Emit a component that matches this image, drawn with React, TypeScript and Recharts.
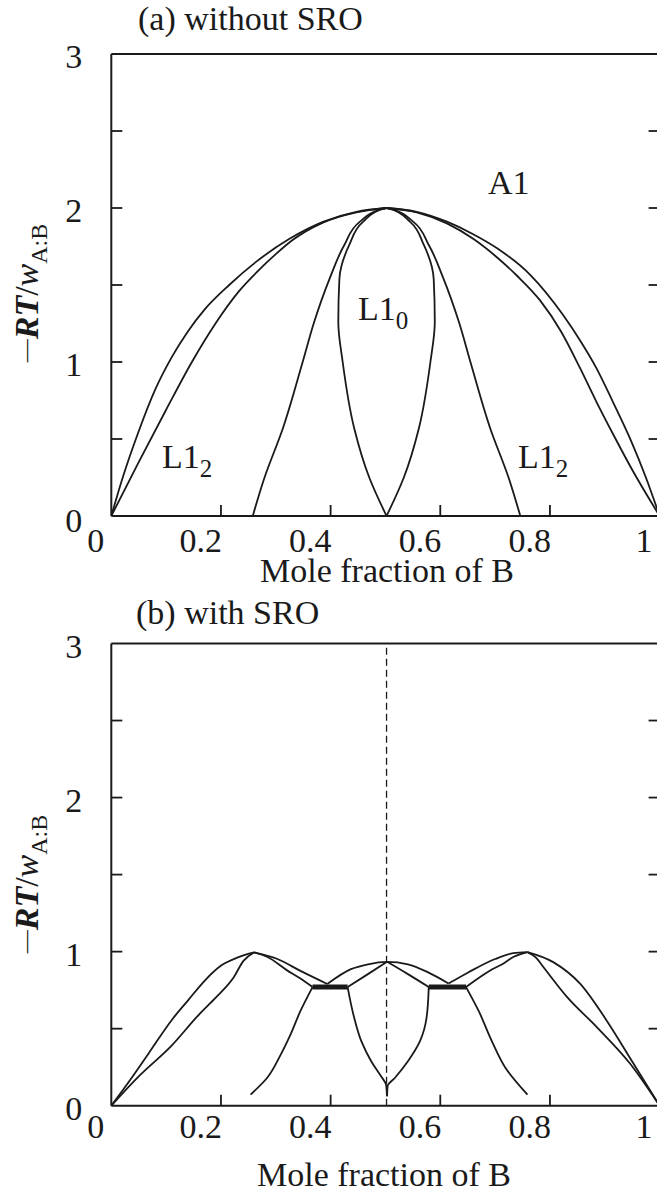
import { LineChart, Line, XAxis, YAxis } from "recharts";

type Pt = [number, number];

// x = mole fraction of B, y = -RT/w(A:B)

// (a) without SRO
const aOuterLeft: Pt[] = [
  [0, 0], [0.02, 0.24], [0.05, 0.55], [0.08, 0.82], [0.11, 1.03], [0.14, 1.2],
  [0.17, 1.34], [0.215, 1.5], [0.264, 1.65], [0.325, 1.8], [0.386, 1.91], [0.447, 1.975], [0.502, 2.0],
];
const aInnerLeft: Pt[] = [
  [0, 0], [0.05, 0.35], [0.1, 0.69], [0.147, 1.0], [0.19, 1.25], [0.233, 1.46],
  [0.27, 1.6], [0.3, 1.7], [0.33, 1.79], [0.386, 1.905], [0.447, 1.972], [0.502, 2.0],
];
const aL10Left: Pt[] = [
  [0.258, 0], [0.279, 0.245], [0.313, 0.57], [0.349, 1.0], [0.37, 1.26], [0.398, 1.54],
  [0.425, 1.76], [0.453, 1.91], [0.49, 1.99], [0.502, 2.0],
];
const aLensLeft: Pt[] = [
  [0.502, 0], [0.471, 0.245], [0.443, 0.57], [0.422, 1.0], [0.414, 1.26], [0.416, 1.54],
  [0.434, 1.76], [0.459, 1.91], [0.496, 1.997], [0.502, 2.0],
];
const aLensRight: Pt[] = [
  [0.502, 0], [0.533, 0.245], [0.561, 0.57], [0.582, 1.0], [0.59, 1.26], [0.588, 1.54],
  [0.57, 1.76], [0.545, 1.91], [0.508, 1.997], [0.502, 2.0],
];
const aL10Right: Pt[] = [
  [0.746, 0], [0.725, 0.245], [0.691, 0.57], [0.655, 1.0], [0.634, 1.26], [0.606, 1.54],
  [0.579, 1.76], [0.551, 1.91], [0.514, 1.99], [0.502, 2.0],
];
const aInnerRight: Pt[] = [
  [0.502, 2.0], [0.557, 1.972], [0.612, 1.9], [0.66, 1.8], [0.7, 1.69], [0.74, 1.56],
  [0.782, 1.4], [0.82, 1.2], [0.855, 0.96], [0.885, 0.74], [0.916, 0.526], [0.95, 0.3], [1.0, 0],
];
const aOuterRight: Pt[] = [
  [0.502, 2.0], [0.557, 1.975], [0.612, 1.911], [0.66, 1.83], [0.703, 1.74], [0.764, 1.566],
  [0.824, 1.305], [0.855, 1.14], [0.885, 0.959], [0.915, 0.74], [0.946, 0.504], [0.975, 0.25], [1.0, 0],
];

// (b) with SRO
const bOuterLeft: Pt[] = [
  [0, 0], [0.035, 0.17], [0.068, 0.339], [0.11, 0.555], [0.14, 0.684], [0.171, 0.814],
  [0.201, 0.911], [0.232, 0.964], [0.26, 0.995],
];
const bOuterLeftDown: Pt[] = [[0.26, 0.995], [0.303, 0.952], [0.345, 0.875], [0.394, 0.79]];
const bDomeOuter: Pt[] = [
  [0.394, 0.79], [0.437, 0.886], [0.468, 0.918], [0.503, 0.934], [0.541, 0.918], [0.578, 0.865], [0.615, 0.793],
];
const bOuterRightUp: Pt[] = [[0.615, 0.793], [0.651, 0.865], [0.7, 0.952], [0.733, 0.99], [0.759, 0.997]];
const bOuterRightDown: Pt[] = [
  [0.759, 0.997], [0.806, 0.932], [0.855, 0.792], [0.903, 0.555], [0.952, 0.275], [1.0, 0],
];
const bInnerLeft: Pt[] = [
  [0, 0], [0.05, 0.19], [0.11, 0.39], [0.162, 0.6], [0.19, 0.7], [0.223, 0.832], [0.241, 0.94], [0.26, 0.995],
];
const bInnerLeftDown: Pt[] = [[0.26, 0.995], [0.285, 0.965], [0.32, 0.88], [0.345, 0.825], [0.367, 0.77]];
const bDomeInnerLeft: Pt[] = [[0.431, 0.77], [0.468, 0.854], [0.503, 0.934]];
const bDomeInnerRight: Pt[] = [[0.503, 0.934], [0.541, 0.854], [0.579, 0.77]];
const bInnerRightUp: Pt[] = [[0.647, 0.77], [0.676, 0.843], [0.691, 0.878], [0.713, 0.918], [0.733, 0.965], [0.759, 0.997]];
const bInnerRightDown: Pt[] = [
  [0.759, 0.997], [0.775, 0.96], [0.788, 0.9], [0.831, 0.706], [0.885, 0.512], [0.946, 0.274], [1.0, 0],
];
const bL12Left: Pt[] = [[0.254, 0.072], [0.284, 0.18], [0.309, 0.332], [0.327, 0.463], [0.345, 0.615], [0.367, 0.77]];
const bL12Right: Pt[] = [[0.759, 0.072], [0.719, 0.245], [0.694, 0.419], [0.67, 0.615], [0.647, 0.77]];
const bCuspLeft: Pt[] = [
  [0.503, 0.061], [0.501, 0.137], [0.492, 0.191], [0.474, 0.289], [0.456, 0.419], [0.443, 0.571], [0.431, 0.77],
];
const bCuspRight: Pt[] = [
  [0.503, 0.061], [0.504, 0.128], [0.517, 0.18], [0.541, 0.289], [0.563, 0.419], [0.575, 0.571], [0.579, 0.77],
];
const bBarLeft: Pt[] = [[0.367, 0.77], [0.431, 0.77]];
const bBarRight: Pt[] = [[0.579, 0.77], [0.647, 0.77]];
const bMidline: Pt[] = [[0.502, 0], [0.502, 3]];

const xTicks = [0, 0.2, 0.4, 0.6, 0.8, 1];
const yTicks = [0, 0.5, 1, 1.5, 2, 2.5, 3];

const INK = "#1a1a1a";
const FONT = "'Liberation Serif', 'Times New Roman', serif";
const TICK = 11;
const W = 700;
const LEFT = 111.3;
const RIGHT = 659.6;

const rows = (p: Pt[]) => p.map(([x, y]) => ({ x, y }));

const bottomTick = (drop: number) => (props: any) => {
  const { x, y, payload } = props;
  const v = payload.value as number;
  const edge = v === 0 || v === 1;
  return (
    <g>
      {!edge && <line x1={x} x2={x} y1={y} y2={y - TICK} stroke={INK} strokeWidth={1.8} />}
      <text x={x + (edge ? -7 : 1)} y={y + drop} textAnchor="end" fontSize={34} fontFamily={FONT} fill={INK}>
        {String(v)}
      </text>
    </g>
  );
};

function topTick(props: any) {
  const { x, y, payload } = props;
  const v = payload.value as number;
  if (v === 0 || v === 1) return <g />;
  return <line x1={x} x2={x} y1={y} y2={y + TICK} stroke={INK} strokeWidth={1.8} />;
}

const leftTick = (zeroDrop: number) => (props: any) => {
  const { x, y, payload } = props;
  const v = payload.value as number;
  const edge = v === 0 || v === 3;
  return (
    <g>
      {!edge && <line x1={x} x2={x + TICK} y1={y} y2={y} stroke={INK} strokeWidth={1.8} />}
      {Number.isInteger(v) && (
        <text x={x - 29} y={y + (v === 0 ? zeroDrop : 14)} textAnchor="end" fontSize={34} fontFamily={FONT} fill={INK}>
          {String(v)}
        </text>
      )}
    </g>
  );
};

function rightTick(props: any) {
  const { x, y, payload } = props;
  const v = payload.value as number;
  if (v === 0 || v === 3) return <g />;
  return <line x1={x} x2={x - TICK} y1={y} y2={y} stroke={INK} strokeWidth={1.8} />;
}

// every axis gets a 1px box so that it is drawn; the margins below take that pixel back
function axes(labelDrop: number, zeroDrop: number) {
  const line = { stroke: INK, strokeWidth: 2 };
  return [
    <XAxis key="xb" dataKey="x" type="number" domain={[0, 1]} allowDataOverflow ticks={xTicks} interval={0}
      height={1} tickSize={0} tickMargin={0} axisLine={line} tickLine={false} tick={bottomTick(labelDrop)} />,
    <XAxis key="xt" xAxisId="top" orientation="top" type="number" domain={[0, 1]} allowDataOverflow ticks={xTicks}
      interval={0} height={1} tickSize={0} tickMargin={0} axisLine={line} tickLine={false} tick={topTick} />,
    <YAxis key="yl" type="number" domain={[0, 3]} allowDataOverflow ticks={yTicks} interval={0} width={1}
      tickSize={0} tickMargin={0} axisLine={line} tickLine={false} tick={leftTick(zeroDrop)} />,
    <YAxis key="yr" yAxisId="right" orientation="right" type="number" domain={[0, 3]} allowDataOverflow
      ticks={yTicks} interval={0} width={1} tickSize={0} tickMargin={0} axisLine={line} tickLine={false} tick={rightTick} />,
  ];
}

type Series = { data: Pt[]; curve: "monotone" | "monotoneY" | "linear"; w?: number; dash?: string };

function curves(list: Series[], prefix: string) {
  return list.map((s, i) => (
    <Line
      key={prefix + i}
      data={rows(s.data)}
      dataKey="y"
      type={s.curve}
      stroke={INK}
      strokeWidth={s.w ?? 1.8}
      strokeDasharray={s.dash}
      dot={false}
      activeDot={false}
      isAnimationActive={false}
    />
  ));
}

const seriesA: Series[] = [
  { data: aOuterLeft, curve: "monotone" },
  { data: aInnerLeft, curve: "monotone" },
  { data: aL10Left, curve: "monotoneY" },
  { data: aLensLeft, curve: "monotoneY" },
  { data: aLensRight, curve: "monotoneY" },
  { data: aL10Right, curve: "monotoneY" },
  { data: aInnerRight, curve: "monotone" },
  { data: aOuterRight, curve: "monotone" },
];

const seriesB: Series[] = [
  { data: bMidline, curve: "linear", w: 1.3, dash: "7 4" },
  { data: bOuterLeft, curve: "monotone" },
  { data: bOuterLeftDown, curve: "monotone" },
  { data: bDomeOuter, curve: "monotone" },
  { data: bOuterRightUp, curve: "monotone" },
  { data: bOuterRightDown, curve: "monotone" },
  { data: bInnerLeft, curve: "monotone" },
  { data: bInnerLeftDown, curve: "monotone" },
  { data: bDomeInnerLeft, curve: "monotone" },
  { data: bDomeInnerRight, curve: "monotone" },
  { data: bInnerRightUp, curve: "monotone" },
  { data: bInnerRightDown, curve: "monotone" },
  { data: bL12Left, curve: "monotoneY" },
  { data: bL12Right, curve: "monotoneY" },
  { data: bCuspLeft, curve: "monotoneY" },
  { data: bCuspRight, curve: "monotoneY" },
  { data: bBarLeft, curve: "linear", w: 5 },
  { data: bBarRight, curve: "linear", w: 5 },
];

// the long minus is an em dash lifted a little (rotated, so "up" is to the left)
function YLabel({ cy }: { cy: number }) {
  return (
    <text transform={`translate(38,${cy}) rotate(-90)`} textAnchor="middle" fontSize={34} fontFamily={FONT} fill={INK}>
      <tspan fontSize={23} dy={-5}>—</tspan>
      <tspan fontWeight="bold" fontStyle="italic" dy={5}>RT</tspan>
      <tspan>/</tspan>
      <tspan fontStyle="italic">w</tspan>
      <tspan fontSize={24} dy={9}>A:B</tspan>
    </text>
  );
}

const txt = { fontSize: 34, fontFamily: FONT, fill: INK };

// panel (b) svg starts at page y = 590, panel (a) svg is 600 tall (they overlap, both transparent)
const A_H = 600;
const B0 = 590;

export default function App() {
  return (
    <div style={{ position: "fixed", left: 0, top: 0, width: 657, height: 1193, overflow: "hidden", background: "#fff" }}>
      <div style={{ position: "absolute", left: 0, top: 0 }}>
        <LineChart width={W} height={A_H} margin={{ top: 54 - 1, right: W - RIGHT - 1, bottom: A_H - 516 - 1, left: LEFT - 1 }}>
          {axes(36, 16)}
          {curves(seriesA, "a")}
          <text x={138} y={30} {...txt}>(a) without SRO</text>
          <text x={387} y={582} textAnchor="middle" {...txt}>Mole fraction of B</text>
          <YLabel cy={293} />
          <text x={488} y={194} {...txt}>A1</text>
          <text x={358} y={320} {...txt}>L1<tspan fontSize={25} dy={9}>0</tspan></text>
          <text x={162} y={468} {...txt}>L1<tspan fontSize={25} dy={9}>2</tspan></text>
          <text x={518} y={468} {...txt}>L1<tspan fontSize={25} dy={9}>2</tspan></text>
        </LineChart>
      </div>
      <div style={{ position: "absolute", left: 0, top: B0 }}>
        <LineChart width={W} height={1193 - B0}
          margin={{ top: 643.5 - B0 - 1, right: W - RIGHT - 1, bottom: 1193 - 1105.7 - 1, left: LEFT - 1 }}>
          {axes(32.5, 14)}
          {curves(seriesB, "b")}
          <text x={136} y={624 - B0} {...txt}>(b) with SRO</text>
          <text x={384} y={1186 - B0} textAnchor="middle" {...txt}>Mole fraction of B</text>
          <YLabel cy={884 - B0} />
        </LineChart>
      </div>
    </div>
  );
}
